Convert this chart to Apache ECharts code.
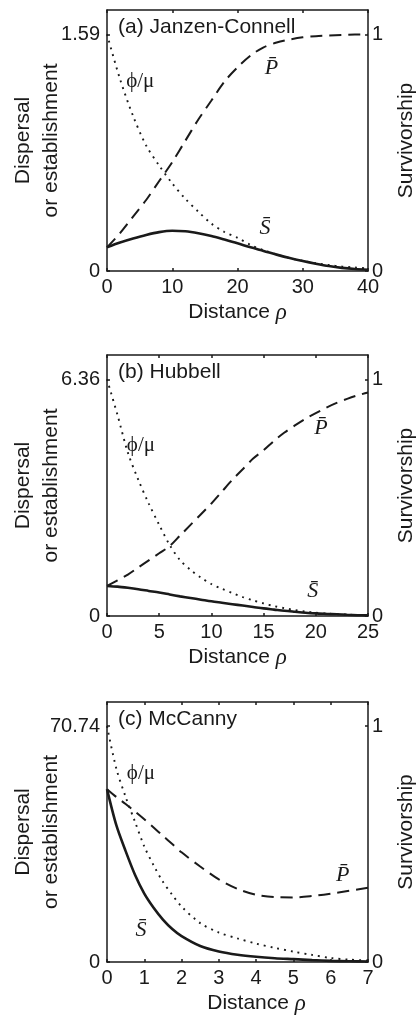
<!DOCTYPE html>
<html>
<head>
<meta charset="utf-8">
<script src="https://cdn.jsdelivr.net/npm/echarts@6/dist/echarts.min.js"></script>
<style>
html,body{margin:0;padding:0;background:#fff;}
#chart{width:417px;height:1017px;}
</style>
</head>
<body>
<div id="chart"></div>
<script>
// ---------- Panel (a) Janzen-Connell ----------
const distA = [0,2,4,6,8,10,12,14,16,18,20,22,24,26,28,30,32,34,36,38,40];
const phiA  = [1.59,1.288,1.041,0.843,0.708,0.588,0.485,0.398,0.318,0.262,0.223,0.175,0.140,0.111,0.087,0.068,0.052,0.040,0.030,0.024,0.017];
const estA  = [0.159,0.191,0.218,0.242,0.261,0.270,0.267,0.254,0.235,0.211,0.186,0.159,0.135,0.110,0.087,0.067,0.049,0.033,0.021,0.013,0.008];
const survA = [0.10,0.16,0.23,0.30,0.38,0.46,0.55,0.64,0.72,0.80,0.86,0.91,0.945,0.965,0.978,0.987,0.992,0.995,0.997,0.999,1.0];
const xTicksA = [0,10,20,30,40];
const leftTicksA = [0,1.59];

// ---------- Panel (b) Hubbell ----------
const distB = [0,1,2,3,4,5,6,7,8,9,10,11,12,13,14,15,16,17,18,19,20,21,22,23,24,25];
const phiB  = [6.36,5.406,4.388,3.657,3.021,2.449,1.908,1.501,1.240,1.030,0.859,0.731,0.617,0.509,0.420,0.337,0.267,0.210,0.159,0.121,0.089,0.064,0.051,0.038,0.025,0.019];
const estB  = [0.808,0.789,0.757,0.719,0.674,0.630,0.579,0.528,0.483,0.439,0.394,0.356,0.318,0.280,0.242,0.204,0.172,0.140,0.114,0.089,0.070,0.057,0.045,0.032,0.022,0.017];
const survB = [0.127,0.15,0.175,0.205,0.235,0.265,0.295,0.34,0.385,0.43,0.475,0.525,0.575,0.62,0.665,0.70,0.74,0.775,0.805,0.833,0.857,0.88,0.90,0.917,0.932,0.944];
const xTicksB = [0,5,10,15,20,25];
const leftTicksB = [0,6.36];

// ---------- Panel (c) McCanny ----------
const distC = [0,0.25,0.5,0.75,1,1.25,1.5,1.75,2,2.5,3,3.5,4,4.5,5,5.5,6,6.5,7];
const phiC  = [70.74,58.01,49.52,42.09,34.66,29.00,24.05,20.16,16.62,11.67,8.84,7.07,5.52,4.24,3.11,2.12,1.20,0.71,0.42];
const estC  = [51.85,41.03,33.25,26.17,20.51,16.27,12.73,9.90,7.78,4.81,3.18,2.19,1.56,1.13,0.85,0.57,0.35,0.21,0.14];
const survC = [0.733,0.70,0.67,0.638,0.605,0.57,0.535,0.50,0.465,0.405,0.35,0.31,0.285,0.275,0.274,0.28,0.29,0.302,0.315];
const xTicksC = [0,1,2,3,4,5,6,7];
const leftTicksC = [0,70.74];

const rightTicks = [0,1];
const titles = ['(a) Janzen-Connell','(b) Hubbell','(c) McCanny'];
const leftName = 'Dispersal\nor establishment';
const rightName = 'Survivorship';

// label anchor points in data units [x, y] (phi on left axis, P on right, S on left)
const annA = {phi:[5.1,1.27], P:[25.2,0.858], S:[24.2,0.289]};
const annB = {phi:[3.25,4.59], P:[20.5,0.794], S:[19.7,0.66]};
const annC = {phi:[0.91,56.6], P:[6.32,0.369], S:[0.91,9.6]};

const TOPFRAC = 1.1025;
const INK = '#1a1a1a';
const SANS = 'Liberation Sans, Arial, sans-serif';
const SERIF = 'Liberation Serif, DejaVu Serif, serif';

const panels = [
  {dist:distA, phi:phiA, est:estA, surv:survA, xt:xTicksA, lt:leftTicksA, ann:annA, top:10,  h:261, nameShift:0},
  {dist:distB, phi:phiB, est:estB, surv:survB, xt:xTicksB, lt:leftTicksB, ann:annB, top:355, h:261, nameShift:0},
  {dist:distC, phi:phiC, est:estC, surv:survC, xt:xTicksC, lt:leftTicksC, ann:annC, top:702, h:260, nameShift:38}
];

const pair = (xs, ys) => xs.map((x,i)=>[x, ys[i]]);
const lineStyleAxis = {color: INK, width: 1.5};

const grid=[], xAxis=[], yAxis=[], series=[], title=[];
panels.forEach((p, k) => {
  grid.push({left:107, width:261, top:p.top, height:p.h, containLabel:false, outerBoundsMode:'none'});
  const xmax = p.xt[p.xt.length-1];
  const xint = p.xt[1]-p.xt[0];
  xAxis.push({
    type:'value', gridIndex:k, position:'bottom', min:0, max:xmax, interval:xint,
    axisLine:{show:true, onZero:false, lineStyle:lineStyleAxis},
    axisTick:{show:true, inside:true, length:3, lineStyle:lineStyleAxis},
    axisLabel:{show:true, margin:6, color:INK, fontSize:20, fontFamily:SANS},
    splitLine:{show:false},
    name:'{a|Distance }{b|ρ}', nameLocation:'middle', nameGap:30, nameMoveOverlap:false,
    nameTextStyle:{padding:[0,0,0,p.nameShift], rich:{
      a:{fontSize:21, fontFamily:SANS, color:INK},
      b:{fontSize:23, fontFamily:SERIF, fontStyle:'italic', color:INK}
    }}
  });
  xAxis.push({
    type:'value', gridIndex:k, position:'top', min:0, max:xmax, interval:xint,
    axisLine:{show:true, onZero:false, lineStyle:lineStyleAxis},
    axisTick:{show:true, inside:true, length:3, lineStyle:lineStyleAxis},
    axisLabel:{show:false}, splitLine:{show:false}
  });
  const ltop = p.lt[1];
  yAxis.push({
    type:'value', gridIndex:k, position:'left', min:0, max:ltop*TOPFRAC,
    axisLine:{show:true, onZero:false, lineStyle:lineStyleAxis},
    axisTick:{show:true, inside:true, length:3, lineStyle:lineStyleAxis, customValues:p.lt},
    axisLabel:{show:true, margin:7, color:INK, fontSize:20, fontFamily:SANS, customValues:p.lt,
      formatter:(v)=> String(v)},
    splitLine:{show:false},
    name:leftName, nameLocation:'middle', nameRotate:90, nameGap:42, nameMoveOverlap:false,
    nameTextStyle:{color:INK, fontSize:21, fontFamily:SANS, lineHeight:28, align:'center'}
  });
  yAxis.push({
    type:'value', gridIndex:k, position:'right', min:0, max:TOPFRAC,
    axisLine:{show:true, onZero:false, lineStyle:lineStyleAxis},
    axisTick:{show:true, inside:true, length:3, lineStyle:lineStyleAxis, customValues:rightTicks},
    axisLabel:{show:true, margin:4, color:INK, fontSize:20, fontFamily:SANS, customValues:rightTicks},
    splitLine:{show:false},
    name:rightName, nameLocation:'middle', nameRotate:90, nameGap:28, nameMoveOverlap:false,
    nameTextStyle:{color:INK, fontSize:21, fontFamily:SANS}
  });
  title.push({text:titles[k], left:118, top:p.top+7, padding:0,
    textStyle:{fontSize:21, fontWeight:'normal', fontFamily:SANS, color:INK}});

  const mp = (coord, text, style) => ({
    silent:true, symbol:'circle', symbolSize:0.01, animation:false,
    data:[{coord:coord}],
    label:Object.assign({show:true, position:'inside', formatter:text, color:INK}, style)
  });
  series.push({
    type:'line', xAxisIndex:2*k, yAxisIndex:2*k, data:pair(p.dist,p.phi),
    showSymbol:false, smooth:0.3, silent:true, animation:false,
    lineStyle:{color:INK, width:1.9, type:[1.9,5], cap:'butt'},
    markPoint: mp(p.ann.phi, 'ϕ/μ', {fontSize:21, fontFamily:SERIF})
  });
  series.push({
    type:'line', xAxisIndex:2*k, yAxisIndex:2*k, data:pair(p.dist,p.est),
    showSymbol:false, smooth:0.3, silent:true, animation:false,
    lineStyle:{color:INK, width:2.6},
    markPoint: mp(p.ann.S, 'S\u0304', {fontSize:22, fontFamily:SERIF, fontStyle:'italic'})
  });
  series.push({
    type:'line', xAxisIndex:2*k, yAxisIndex:2*k+1, data:pair(p.dist,p.surv),
    showSymbol:false, smooth:0.3, silent:true, animation:false,
    lineStyle:{color:INK, width:2, type:[12,7]},
    markPoint: mp(p.ann.P, 'P\u0304', {fontSize:22, fontFamily:SERIF, fontStyle:'italic'})
  });
});

const chart = echarts.init(document.getElementById('chart'), null, {renderer:'canvas'});
chart.setOption({
  backgroundColor:'#fff',
  animation:false,
  title, grid, xAxis, yAxis, series
});
</script>
</body>
</html>
